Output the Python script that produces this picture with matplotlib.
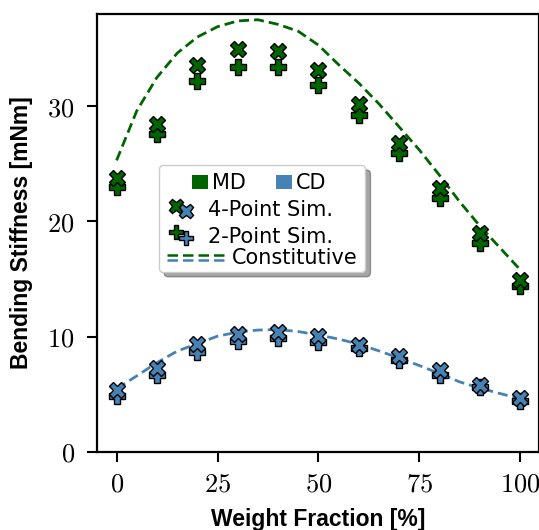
import matplotlib
matplotlib.use("Agg")
import matplotlib.pyplot as plt
from matplotlib.offsetbox import AnchoredOffsetbox, DrawingArea, TextArea, HPacker, VPacker
from matplotlib.patches import Rectangle, Shadow
from matplotlib.lines import Line2D

plt.rcParams['mathtext.fontset'] = 'cm'

# ---------------- data ----------------
weight = [0, 10, 20, 30, 40, 50, 60, 70, 80, 90, 100]
md_4pt = [23.8, 28.5, 33.6, 35.0, 34.8, 33.1, 30.2, 26.8, 22.9, 19.0, 14.9]
md_2pt = [23.0, 27.6, 32.2, 33.4, 33.4, 31.8, 29.2, 25.9, 22.0, 18.1, 14.4]
cd_4pt = [5.4, 7.25, 9.35, 10.2, 10.45, 10.05, 9.3, 8.3, 7.1, 5.8, 4.65]
cd_2pt = [4.9, 6.7, 8.7, 9.6, 9.85, 9.55, 9.0, 8.0, 6.7, 5.6, 4.45]

const_x = [0, 5, 10, 15, 20, 25, 30, 35, 40, 45, 50, 55, 60, 65, 70, 75, 80, 85, 90, 95, 100]
md_const = [25.3, 29.6, 32.5, 34.6, 36.0, 36.9, 37.4, 37.5, 37.1, 36.5, 35.3, 33.6,
            32.0, 30.2, 28.2, 26.2, 24.0, 21.7, 19.6, 17.7, 15.8]
cd_const = [5.5, 6.6, 7.75, 8.75, 9.4, 10.05, 10.4, 10.58, 10.62, 10.45, 10.15, 9.8,
            9.35, 8.77, 8.15, 7.5, 6.8, 6.08, 5.54, 5.07, 4.62]

xticks = [0, 25, 50, 75, 100]
yticks = [0, 10, 20, 30]
xlabel = "Weight Fraction [%]"
ylabel = "Bending Stiffness [mNm]"
legend_labels = ["MD", "CD", "4-Point Sim.", "2-Point Sim.", "Constitutive"]

GREEN = "#006400"
BLUE = "#4682b4"

# ---------------- figure ----------------
fig = plt.figure(figsize=(5.39, 5.30), dpi=100)
ax = fig.add_axes([97 / 539, 78 / 530, 441.5 / 539, 438 / 530])

dash = (0, (3.6, 1.8))
ms = 11
for const, pt2, pt4, col in [(md_const, md_2pt, md_4pt, GREEN), (cd_const, cd_2pt, cd_4pt, BLUE)]:
    ax.plot(const_x, const, ls=dash, color=col, lw=2, zorder=1)
    ax.plot(weight, pt2, ls="none", marker="P", ms=ms, mfc=col, mec="k", mew=1, zorder=2)
    ax.plot(weight, pt4, ls="none", marker="X", ms=ms, mfc=col, mec="k", mew=1, zorder=3)

ax.set_xlim(-4.85, 104.5)
ax.set_ylim(0, 38)
ax.set_xticks(xticks, labels=[f"${t}$" for t in xticks])
ax.set_yticks(yticks, labels=[f"${t}$" for t in yticks])
ax.tick_params(axis="both", direction="out", length=7, width=1.5, labelsize=19, colors="k")
ax.tick_params(axis="x", pad=7)
ax.tick_params(axis="y", pad=9)
for sp in ax.spines.values():
    sp.set_linewidth(1.6)

lab_font = dict(family="Liberation Sans", weight="bold", size=16.5)
ax.set_xlabel(xlabel, **lab_font)
ax.set_ylabel(ylabel, **lab_font)
ax.xaxis.set_label_coords(0.5, -0.128)
ax.yaxis.set_label_coords(-0.144, 0.5)

# ---------------- legend ----------------
P = 0.72  # points per pixel at 100 dpi
tp = dict(size=15, family="DejaVu Sans", color="k")


def gap(px):
    return DrawingArea(px * P, 0, 0, 0)


def square(col):
    da = DrawingArea(16 * P, 14 * P, 0, 0)
    da.add_artist(Rectangle((0, 0), 16 * P, 14 * P, fc=col, ec="none"))
    return da


def marker_pair(m):
    da = DrawingArea(24 * P, 14 * P, 0, 0, clip=False)
    da.add_artist(Line2D([6 * P], [10.5 * P], ls="none", marker=m, ms=ms - 0.5,
                         mfc=GREEN, mec="k", mew=1))
    da.add_artist(Line2D([16 * P], [5.3 * P], ls="none", marker=m, ms=ms - 0.5,
                         mfc=BLUE, mec="k", mew=1))
    return da


def line_pair():
    da = DrawingArea(57 * P, 14 * P, 0, 0, clip=False)
    ls = (0, (4.2, 2.0))
    da.add_artist(Line2D([0, 57 * P], [9.3 * P, 9.3 * P], ls=ls, color=GREEN, lw=1.8))
    da.add_artist(Line2D([0, 57 * P], [4.3 * P, 4.3 * P], ls=ls, color=BLUE, lw=1.8))
    return da


row1 = HPacker(children=[gap(24.7), square(GREEN), gap(4), TextArea(legend_labels[0], textprops=tp),
                         gap(30), square(BLUE), gap(4), TextArea(legend_labels[1], textprops=tp)],
               sep=0, pad=0, align="baseline")
row2 = HPacker(children=[gap(3), marker_pair("X"), gap(14), TextArea(legend_labels[2], textprops=tp)],
               sep=0, pad=0, align="baseline")
row3 = HPacker(children=[gap(3), marker_pair("P"), gap(14), TextArea(legend_labels[3], textprops=tp)],
               sep=0, pad=0, align="baseline")
row4 = HPacker(children=[line_pair(), gap(7), TextArea(legend_labels[4], textprops=tp)],
               sep=0, pad=0, align="baseline")

upper = VPacker(children=[row1, row2, row3], sep=6.8 * P, pad=0, align="left")
body = VPacker(children=[upper, row4], sep=1.5 * P, pad=0, align="left")
content = VPacker(children=[body, gap(0)], sep=-5 * P, pad=0, align="left")


class ShadowBox(AnchoredOffsetbox):
    def draw(self, renderer):
        if not self.get_visible():
            return
        bbox = self.get_window_extent(renderer)
        fontsize = renderer.points_to_pixels(self.prop.get_size_in_points())
        self.update_frame(bbox, fontsize)
        Shadow(self.patch, 3.6, -3.6).draw(renderer)
        super().draw(renderer)


box = ShadowBox(loc="upper left", child=content, pad=0.4, borderpad=0, prop=dict(size=15),
                frameon=True, bbox_to_anchor=(0.1406, 0.6553), bbox_transform=ax.transAxes)
box.patch.set_boxstyle("round,pad=0,rounding_size=0.2")
box.patch.set_edgecolor("0.8")
box.patch.set_facecolor("white")
box.patch.set_linewidth(1.0)
ax.add_artist(box)

fig.savefig("out.png", dpi=100)
